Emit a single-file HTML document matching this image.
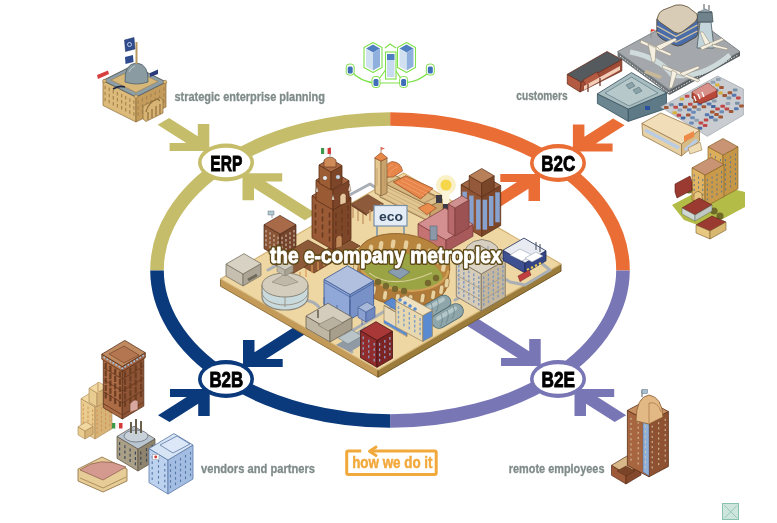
<!DOCTYPE html>
<html><head><meta charset="utf-8"><style>
html,body{margin:0;padding:0;background:#fff;width:777px;height:523px;overflow:hidden}
svg{display:block;will-change:transform;font-family:"Liberation Sans",sans-serif}
</style></head><body>
<svg width="777" height="523" viewBox="0 0 777 523">
<g fill="none" stroke="#7ee04a" stroke-width="1.2"><path d="M350 70 Q360 82 376 83 L404 83 Q420 82 431 70"/><path d="M376 83 L387 68 M404 83 L394 68 M385 48 L390 44 L396 48"/></g>
<polygon points="364.0,47.5 373.0,42.5 382.0,47.5 382.0,67.5 373.0,72.5 364.0,67.5" fill="#ffffff" stroke="#7ee04a" stroke-width="1.1" stroke-linejoin="round"/><polygon points="366.0,48.5 373.0,44.5 380.0,48.5 373.0,52.5" fill="#4f7fc0"/><polygon points="373.0,52.5 380.0,48.5 380.0,66.5 373.0,70.5" fill="#8fb0dc"/><polygon points="366.0,48.5 373.0,52.5 373.0,70.5 366.0,66.5" fill="#d0e0f0"/>
<polygon points="397.5,47.5 406.5,42.5 415.5,47.5 415.5,67.5 406.5,72.5 397.5,67.5" fill="#ffffff" stroke="#7ee04a" stroke-width="1.1" stroke-linejoin="round"/><polygon points="399.5,48.5 406.5,44.5 413.5,48.5 406.5,52.5" fill="#4f7fc0"/><polygon points="406.5,52.5 413.5,48.5 413.5,66.5 406.5,70.5" fill="#8fb0dc"/><polygon points="399.5,48.5 406.5,52.5 406.5,70.5 399.5,66.5" fill="#d0e0f0"/>
<rect x="385.5" y="52" width="10.5" height="27" fill="#ffffff" stroke="#7ee04a" stroke-width="1.1"/>
<rect x="387" y="54" width="7.5" height="6" fill="#4f7fc0"/><rect x="387" y="60" width="7.5" height="17" fill="#c8daf0"/>
<rect x="346.2" y="64.1" width="8" height="11" rx="3" fill="#fff" stroke="#7ee04a" stroke-width="1"/><rect x="347.7" y="66.6" width="5" height="7" rx="1.5" fill="#3f6fb8"/>
<rect x="426.3" y="64.1" width="8" height="11" rx="3" fill="#fff" stroke="#7ee04a" stroke-width="1"/><rect x="427.8" y="66.6" width="5" height="7" rx="1.5" fill="#3f6fb8"/>
<rect x="372.0" y="76.5" width="8" height="11" rx="3" fill="#fff" stroke="#7ee04a" stroke-width="1"/><rect x="373.5" y="79.0" width="5" height="7" rx="1.5" fill="#3f6fb8"/>
<rect x="399.6" y="76.5" width="8" height="11" rx="3" fill="#fff" stroke="#7ee04a" stroke-width="1"/><rect x="401.1" y="79.0" width="5" height="7" rx="1.5" fill="#3f6fb8"/>
<polygon points="136.0,122.0 103.0,105.5 103.0,80.5 136.0,97.0" fill="#dcbb7a" stroke="#8a6a38" stroke-width="0.7" stroke-linejoin="round"/><polygon points="136.0,122.0 166.0,107.0 166.0,82.0 136.0,97.0" fill="#c49c5c" stroke="#8a6a38" stroke-width="0.7" stroke-linejoin="round"/><polygon points="136.0,97.0 103.0,80.5 133.0,65.5 166.0,82.0" fill="#d6b474" stroke="#8a6a38" stroke-width="0.7" stroke-linejoin="round"/>
<g stroke="#a88450" stroke-width="1.2"><path d="M133.9 112.2 v3.5" /><path d="M129.8 110.2 v3.5" /><path d="M125.7 108.1 v3.5" /><path d="M121.6 106.0 v3.5" /><path d="M117.4 104.0 v3.5" /><path d="M113.3 101.9 v3.5" /><path d="M109.2 99.8 v3.5" /><path d="M105.1 97.8 v3.5" /><path d="M138.1 112.2 v3.5" /><path d="M142.4 110.0 v3.5" /><path d="M146.7 107.9 v3.5" /><path d="M151.0 105.8 v3.5" /><path d="M155.3 103.6 v3.5" /><path d="M159.6 101.5 v3.5" /><path d="M163.9 99.3 v3.5" /><path d="M133.9 106.2 v3.5" /><path d="M129.8 104.2 v3.5" /><path d="M125.7 102.1 v3.5" /><path d="M121.6 100.0 v3.5" /><path d="M117.4 98.0 v3.5" /><path d="M113.3 95.9 v3.5" /><path d="M109.2 93.8 v3.5" /><path d="M105.1 91.8 v3.5" /><path d="M138.1 106.2 v3.5" /><path d="M142.4 104.0 v3.5" /><path d="M146.7 101.9 v3.5" /><path d="M151.0 99.8 v3.5" /><path d="M155.3 97.6 v3.5" /><path d="M159.6 95.5 v3.5" /><path d="M163.9 93.3 v3.5" /><path d="M133.9 100.2 v3.5" /><path d="M129.8 98.2 v3.5" /><path d="M125.7 96.1 v3.5" /><path d="M121.6 94.0 v3.5" /><path d="M117.4 92.0 v3.5" /><path d="M113.3 89.9 v3.5" /><path d="M109.2 87.8 v3.5" /><path d="M105.1 85.8 v3.5" /><path d="M138.1 100.2 v3.5" /><path d="M142.4 98.0 v3.5" /><path d="M146.7 95.9 v3.5" /><path d="M151.0 93.8 v3.5" /><path d="M155.3 91.6 v3.5" /><path d="M159.6 89.5 v3.5" /><path d="M163.9 87.3 v3.5" /></g>
<polygon points="103.0,80.5 136.0,97.0 166.0,82.0 133.0,65.5" fill="#8d9ea6" stroke="#4e5e68" stroke-width="0.8" stroke-linejoin="round"/>
<polygon points="111.0,80.0 136.0,92.5 158.0,81.5 133.0,69.5" fill="#d8b878" stroke="#9a7a48" stroke-width="0.6" stroke-linejoin="round"/>
<polygon points="143.0,106.0 160.0,97.5 163.0,100.0 163.0,113.0 146.0,121.5 143.0,119.0" fill="#d8b474" stroke="#8a6a38" stroke-width="0.7" stroke-linejoin="round"/>
<path d="M146 112 Q148 102 158 99 L160 101" fill="none" stroke="#8a6a38" stroke-width="1.2"/>
<path d="M148 120 v-8 M152 118 v-9 M156 116 v-10 M160 114 v-10" stroke="#8a6a38" stroke-width="1.1"/>
<g fill="#d8b878" stroke="#8a6a38" stroke-width="0.5"><circle cx="104.5" cy="81" r="1.8"/><circle cx="136" cy="96.5" r="1.8"/><circle cx="165" cy="82" r="1.8"/></g>
<path d="M125 82 Q124 64 136.5 63 Q149 64 148 82 Q136.5 86 125 82 Z" fill="#8a9ca2" stroke="#4e5e68" stroke-width="0.8"/>
<path d="M129 72 Q131 67 135 66" fill="none" stroke="#b8c8cc" stroke-width="1"/>
<path d="M136.5 64 V42" stroke="#b89a60" stroke-width="2"/>
<polygon points="124.5,40.0 134.0,37.5 135.0,49.0 125.5,51.5" fill="#2f4c8e" stroke="#1c2c5a" stroke-width="0.5" stroke-linejoin="round"/>
<circle cx="129.5" cy="44.5" r="2" fill="none" stroke="#e8eef8" stroke-width="0.8"/>
<polygon points="125.0,57.0 133.0,55.0 133.5,62.0 125.5,64.0" fill="#2f4c8e"/>
<polygon points="97.0,75.0 108.0,70.5 109.0,74.0 98.0,79.0" fill="#d84040"/>
<polygon points="150.0,73.0 158.0,69.5 158.0,74.0 150.0,77.0" fill="#2a3a7a"/>
<path d="M113 89 q6 -4 12 -2" stroke="#202840" stroke-width="1.6" fill="none"/>
<polygon points="617.6,51.6 669.3,89.9 669.3,95.0 617.6,56.5" fill="#6e7478"/>
<polygon points="669.3,89.9 740.0,51.6 740.0,56.0 669.3,95.0" fill="#585e62"/>
<path d="M620 56 L669 93 L738 55" fill="none" stroke="#e8e8e8" stroke-width="1" stroke-dasharray="1.5 1.5"/>
<polygon points="617.6,51.6 688.3,13.3 740.0,51.6 669.3,89.9" fill="#a4a8ac" stroke="#70767a" stroke-width="0.8" stroke-linejoin="round"/>
<path d="M630 52 Q660 58 672 75 Q700 80 730 55" fill="none" stroke="#cfdadb" stroke-width="5"/>
<path d="M656.8 19 L656.8 31 Q657 36 662 39 L674 45 Q678 47 682 45 L696 37 Q698 35 698 31 L698 16 Z" fill="#4a6ca8" stroke="#4a3e2a" stroke-width="0.8"/>
<path d="M657 26 L676 36.5 L697.5 25 M657 32 L676 42 L697.5 31" fill="none" stroke="#d8c8a0" stroke-width="1.3"/>
<path d="M658 16 Q656 19 659 21.5 L674 32 Q678 34.5 682 32 L695 22 Q699 18 697 14 L688 7 Q682 4 676 5 L663 10 Q659 12 658 16 Z" fill="#d9ccb6" stroke="#5a4a30" stroke-width="0.8"/>
<polygon points="700.0,22.0 711.0,22.0 714.0,48.0 697.0,48.0" fill="#c4d6dc" stroke="#4a5a62" stroke-width="0.8" stroke-linejoin="round"/>
<polygon points="698.0,12.0 712.0,12.0 713.0,22.0 697.0,22.0" fill="#70828c" stroke="#3a4a52" stroke-width="0.7" stroke-linejoin="round"/>
<polygon points="699.0,12.0 705.0,9.0 712.0,12.0" fill="#9aacb4" stroke="#3a4a52" stroke-width="0.5" stroke-linejoin="round"/>
<path d="M704 9 V4 M709 10 V5" stroke="#555" stroke-width="1"/>
<g fill="#f4efe0" stroke="#8a8070" stroke-width="0.5"><path d="M641 40 L672 54 L670 56 L640 43 Z"/><path d="M648 44 L652 62 L655 62 L656 48 Z"/><path d="M656 46 L675 38 L677 40 L660 50 Z"/><path d="M700 47 L722 38 L724 40 L702 50 Z"/><path d="M705 45 L700 32 L703 32 L710 43 Z"/><path d="M712 44 L728 48 L727 50 L713 47 Z"/><path d="M663 65 L700 80 L698 82 L662 68 Z"/><path d="M672 70 L669 88 L672 88 L677 73 Z"/><path d="M680 73 L698 66 L700 68 L683 76 Z"/></g>
<polygon points="646.0,70.0 662.0,76.0 660.0,79.0 644.0,73.0" fill="#c8b898"/>
<path d="M651 38 V30" stroke="#888" stroke-width="0.8"/><polygon points="651,29 656,30 651,32" fill="#e04030"/>
<polygon points="567.3,74.3 581.0,82.0 580.0,92.0 567.3,84.0" fill="#b25a42" stroke="#6a2e20" stroke-width="0.8" stroke-linejoin="round"/>
<polygon points="581.0,82.0 621.8,59.6 621.8,71.0 580.0,92.0" fill="#a04c36" stroke="#6a2e20" stroke-width="0.8" stroke-linejoin="round"/>
<polygon points="567.3,74.3 607.0,51.5 621.8,59.6 581.0,82.0" fill="#555a5e" stroke="#6a2e20" stroke-width="0.8" stroke-linejoin="round"/>
<polygon points="583.0,80.0 597.0,72.0 600.0,78.0 586.0,86.0" fill="#b25a42" stroke="#6a2e20" stroke-width="0.6" stroke-linejoin="round"/>
<polygon points="584.0,86.0 620.0,66.0 620.0,70.0 584.0,90.0" fill="#f2cdb8"/>
<path d="M588 84 v8 M600 78 v8" stroke="#6a2e20" stroke-width="1.2"/>
<polygon points="597.4,93.8 628.3,109.0 628.3,121.4 597.4,103.5" fill="#6b8690" stroke="#36525e" stroke-width="0.8" stroke-linejoin="round"/>
<polygon points="628.3,109.0 666.5,93.0 666.5,108.4 628.3,121.4" fill="#5e7a86" stroke="#36525e" stroke-width="0.8" stroke-linejoin="round"/>
<polygon points="597.4,93.8 631.5,72.6 666.5,93.0 628.3,109.0" fill="#a9bcc0" stroke="#36525e" stroke-width="0.8" stroke-linejoin="round"/>
<polygon points="605.0,93.0 631.5,77.0 658.0,93.0 629.0,106.0" fill="#b7c8ca" stroke="#5a7a84" stroke-width="0.7" stroke-linejoin="round"/>
<path d="M626 85 l6 -3 l3 4 l-6 3 z M633 90 l6 -3 l3 4 l-6 3 z" fill="#8aa2a8" stroke="#4a6a74" stroke-width="0.5"/>
<rect x="645" y="106" width="5" height="4" fill="#2a50a0"/>
<polygon points="660.8,107.0 717.6,76.0 743.4,89.0 743.4,115.0 707.3,136.3" fill="#c9cdd1" stroke="#a4acb4" stroke-width="0.8" stroke-linejoin="round"/>
<g><rect x="664.0" y="106.0" width="4.6" height="3" rx="0.8" fill="#a05838"/><rect x="669.2" y="103.2" width="4.6" height="3" rx="0.8" fill="#7890a8"/><rect x="679.6" y="97.6" width="4.6" height="3" rx="0.8" fill="#d8b040"/><rect x="684.8" y="94.8" width="4.6" height="3" rx="0.8" fill="#c04848"/><rect x="695.2" y="89.2" width="4.6" height="3" rx="0.8" fill="#d8b040"/><rect x="700.4" y="86.4" width="4.6" height="3" rx="0.8" fill="#8a9aaa"/><rect x="705.6" y="83.6" width="4.6" height="3" rx="0.8" fill="#5878b0"/><rect x="710.8" y="80.8" width="4.6" height="3" rx="0.8" fill="#90a0b0"/><rect x="716.0" y="78.0" width="4.6" height="3" rx="0.8" fill="#90a0b0"/><rect x="673.4" y="105.8" width="4.6" height="3" rx="0.8" fill="#c04848"/><rect x="678.6" y="103.0" width="4.6" height="3" rx="0.8" fill="#4868a0"/><rect x="694.2" y="94.6" width="4.6" height="3" rx="0.8" fill="#d8b040"/><rect x="699.4" y="91.8" width="4.6" height="3" rx="0.8" fill="#c04848"/><rect x="704.6" y="89.0" width="4.6" height="3" rx="0.8" fill="#6a8ab8"/><rect x="709.8" y="86.2" width="4.6" height="3" rx="0.8" fill="#d8b040"/><rect x="715.0" y="83.4" width="4.6" height="3" rx="0.8" fill="#d8b040"/><rect x="672.4" y="111.2" width="4.6" height="3" rx="0.8" fill="#d8b040"/><rect x="677.6" y="108.4" width="4.6" height="3" rx="0.8" fill="#90a0b0"/><rect x="682.8" y="105.6" width="4.6" height="3" rx="0.8" fill="#a05838"/><rect x="688.0" y="102.8" width="4.6" height="3" rx="0.8" fill="#c04848"/><rect x="693.2" y="100.0" width="4.6" height="3" rx="0.8" fill="#a05838"/><rect x="698.4" y="97.2" width="4.6" height="3" rx="0.8" fill="#5878b0"/><rect x="703.6" y="94.4" width="4.6" height="3" rx="0.8" fill="#a05838"/><rect x="714.0" y="88.8" width="4.6" height="3" rx="0.8" fill="#6a8ab8"/><rect x="719.2" y="86.0" width="4.6" height="3" rx="0.8" fill="#a05838"/><rect x="676.6" y="113.8" width="4.6" height="3" rx="0.8" fill="#c04848"/><rect x="687.0" y="108.2" width="4.6" height="3" rx="0.8" fill="#5878b0"/><rect x="692.2" y="105.4" width="4.6" height="3" rx="0.8" fill="#a05838"/><rect x="697.4" y="102.6" width="4.6" height="3" rx="0.8" fill="#5878b0"/><rect x="702.6" y="99.8" width="4.6" height="3" rx="0.8" fill="#90a0b0"/><rect x="707.8" y="97.0" width="4.6" height="3" rx="0.8" fill="#5878b0"/><rect x="713.0" y="94.2" width="4.6" height="3" rx="0.8" fill="#c04848"/><rect x="718.2" y="91.4" width="4.6" height="3" rx="0.8" fill="#d8b040"/><rect x="680.8" y="116.4" width="4.6" height="3" rx="0.8" fill="#4868a0"/><rect x="686.0" y="113.6" width="4.6" height="3" rx="0.8" fill="#a05838"/><rect x="691.2" y="110.8" width="4.6" height="3" rx="0.8" fill="#6a8ab8"/><rect x="696.4" y="108.0" width="4.6" height="3" rx="0.8" fill="#8a9aaa"/><rect x="701.6" y="105.2" width="4.6" height="3" rx="0.8" fill="#a05838"/><rect x="706.8" y="102.4" width="4.6" height="3" rx="0.8" fill="#5878b0"/><rect x="712.0" y="99.6" width="4.6" height="3" rx="0.8" fill="#8a9aaa"/><rect x="722.4" y="94.0" width="4.6" height="3" rx="0.8" fill="#a05838"/><rect x="727.6" y="91.2" width="4.6" height="3" rx="0.8" fill="#a05838"/><rect x="732.8" y="88.4" width="4.6" height="3" rx="0.8" fill="#7890a8"/><rect x="690.2" y="116.2" width="4.6" height="3" rx="0.8" fill="#6a8ab8"/><rect x="711.0" y="105.0" width="4.6" height="3" rx="0.8" fill="#4868a0"/><rect x="726.6" y="96.6" width="4.6" height="3" rx="0.8" fill="#7890a8"/><rect x="731.8" y="93.8" width="4.6" height="3" rx="0.8" fill="#5878b0"/><rect x="689.2" y="121.6" width="4.6" height="3" rx="0.8" fill="#6a8ab8"/><rect x="694.4" y="118.8" width="4.6" height="3" rx="0.8" fill="#90a0b0"/><rect x="704.8" y="113.2" width="4.6" height="3" rx="0.8" fill="#5878b0"/><rect x="710.0" y="110.4" width="4.6" height="3" rx="0.8" fill="#a05838"/><rect x="715.2" y="107.6" width="4.6" height="3" rx="0.8" fill="#c04848"/><rect x="720.4" y="104.8" width="4.6" height="3" rx="0.8" fill="#c04848"/><rect x="725.6" y="102.0" width="4.6" height="3" rx="0.8" fill="#90a0b0"/><rect x="736.0" y="96.4" width="4.6" height="3" rx="0.8" fill="#c04848"/><rect x="698.6" y="121.4" width="4.6" height="3" rx="0.8" fill="#c04848"/><rect x="703.8" y="118.6" width="4.6" height="3" rx="0.8" fill="#c04848"/><rect x="709.0" y="115.8" width="4.6" height="3" rx="0.8" fill="#4868a0"/><rect x="714.2" y="113.0" width="4.6" height="3" rx="0.8" fill="#a05838"/><rect x="719.4" y="110.2" width="4.6" height="3" rx="0.8" fill="#6a8ab8"/><rect x="724.6" y="107.4" width="4.6" height="3" rx="0.8" fill="#c04848"/><rect x="735.0" y="101.8" width="4.6" height="3" rx="0.8" fill="#7890a8"/><rect x="697.6" y="126.8" width="4.6" height="3" rx="0.8" fill="#4868a0"/><rect x="702.8" y="124.0" width="4.6" height="3" rx="0.8" fill="#c04848"/><rect x="713.2" y="118.4" width="4.6" height="3" rx="0.8" fill="#7890a8"/><rect x="718.4" y="115.6" width="4.6" height="3" rx="0.8" fill="#a05838"/><rect x="728.8" y="110.0" width="4.6" height="3" rx="0.8" fill="#a05838"/><rect x="734.0" y="107.2" width="4.6" height="3" rx="0.8" fill="#5878b0"/><rect x="739.2" y="104.4" width="4.6" height="3" rx="0.8" fill="#a05838"/></g>
<polygon points="692.0,92.0 708.0,83.0 717.0,90.0 717.0,97.0 700.0,104.0 692.0,98.0" fill="#b8483a" stroke="#6a2a20" stroke-width="0.7" stroke-linejoin="round"/>
<polygon points="692.0,92.0 708.0,83.0 717.0,90.0 701.0,98.0" fill="#d8908a"/>
<path d="M694 96 l2 5 M698 94 l2 5 M702 92 l2 5" stroke="#fff" stroke-width="1.3"/>
<polygon points="641.9,123.4 681.5,144.0 681.5,156.0 642.7,135.4" fill="#e6d0a4" stroke="#9a7a4a" stroke-width="0.8" stroke-linejoin="round"/>
<polygon points="681.5,144.0 699.5,130.0 699.5,141.0 681.5,156.0" fill="#d8bc88" stroke="#9a7a4a" stroke-width="0.8" stroke-linejoin="round"/>
<polygon points="641.9,123.4 660.8,113.0 699.5,130.0 681.5,144.0" fill="#f1ddb8" stroke="#9a7a4a" stroke-width="0.8" stroke-linejoin="round"/>
<path d="M645 130 L679 148 M685 150 L697 140" stroke="#b9cce6" stroke-width="3.5"/>
<polygon points="684.0,136.0 694.0,131.0 694.0,137.0 684.0,142.0" fill="#ee8a48"/>
<polygon points="688.0,148.0 700.0,142.0 702.0,150.0 690.0,154.0" fill="#efdcb4" stroke="#9a7a4a" stroke-width="0.6" stroke-linejoin="round"/>
<polygon points="672.0,205.0 712.0,184.0 745.0,192.0 745.0,207.0 706.0,228.0 684.0,220.0" fill="#b3bc46"/>
<polygon points="723.0,197.0 708.0,188.8 708.0,146.8 723.0,155.0" fill="#dcae5c" stroke="#8a6428" stroke-width="0.7" stroke-linejoin="round"/><polygon points="723.0,197.0 738.0,188.8 738.0,146.8 723.0,155.0" fill="#c49646" stroke="#8a6428" stroke-width="0.7" stroke-linejoin="round"/><polygon points="723.0,155.0 708.0,146.8 723.0,138.5 738.0,146.8" fill="#c99474" stroke="#8a6428" stroke-width="0.7" stroke-linejoin="round"/>
<g stroke="#6a7a88" stroke-width="1.1"><path d="M720.5 188.1 v2.2" /><path d="M715.5 185.3 v2.2" /><path d="M710.5 182.6 v2.2" /><path d="M725.5 188.1 v2.2" /><path d="M730.5 185.3 v2.2" /><path d="M735.5 182.6 v2.2" /><path d="M720.5 183.2 v2.2" /><path d="M715.5 180.5 v2.2" /><path d="M710.5 177.7 v2.2" /><path d="M725.5 183.2 v2.2" /><path d="M730.5 180.5 v2.2" /><path d="M735.5 177.7 v2.2" /><path d="M720.5 178.4 v2.2" /><path d="M715.5 175.6 v2.2" /><path d="M710.5 172.9 v2.2" /><path d="M725.5 178.4 v2.2" /><path d="M730.5 175.6 v2.2" /><path d="M735.5 172.9 v2.2" /><path d="M720.5 173.5 v2.2" /><path d="M715.5 170.8 v2.2" /><path d="M710.5 168.0 v2.2" /><path d="M725.5 173.5 v2.2" /><path d="M730.5 170.8 v2.2" /><path d="M735.5 168.0 v2.2" /><path d="M720.5 168.7 v2.2" /><path d="M715.5 165.9 v2.2" /><path d="M710.5 163.2 v2.2" /><path d="M725.5 168.7 v2.2" /><path d="M730.5 165.9 v2.2" /><path d="M735.5 163.2 v2.2" /><path d="M720.5 163.8 v2.2" /><path d="M715.5 161.1 v2.2" /><path d="M710.5 158.3 v2.2" /><path d="M725.5 163.8 v2.2" /><path d="M730.5 161.1 v2.2" /><path d="M735.5 158.3 v2.2" /><path d="M720.5 159.0 v2.2" /><path d="M715.5 156.2 v2.2" /><path d="M710.5 153.5 v2.2" /><path d="M725.5 159.0 v2.2" /><path d="M730.5 156.2 v2.2" /><path d="M735.5 153.5 v2.2" /></g>
<polygon points="705.0,207.0 692.0,199.8 692.0,167.8 705.0,175.0" fill="#e0b462" stroke="#8a6428" stroke-width="0.7" stroke-linejoin="round"/><polygon points="705.0,207.0 724.0,196.6 724.0,164.6 705.0,175.0" fill="#c89a4a" stroke="#8a6428" stroke-width="0.7" stroke-linejoin="round"/><polygon points="705.0,175.0 692.0,167.8 711.0,157.4 724.0,164.6" fill="#c99474" stroke="#8a6428" stroke-width="0.7" stroke-linejoin="round"/>
<g stroke="#6a7a88" stroke-width="1.1"><path d="M702.8 198.3 v2.2" /><path d="M698.5 195.9 v2.2" /><path d="M694.2 193.5 v2.2" /><path d="M707.4 198.2 v2.2" /><path d="M712.1 195.6 v2.2" /><path d="M716.9 193.0 v2.2" /><path d="M721.6 190.4 v2.2" /><path d="M702.8 193.5 v2.2" /><path d="M698.5 191.1 v2.2" /><path d="M694.2 188.7 v2.2" /><path d="M707.4 193.4 v2.2" /><path d="M712.1 190.8 v2.2" /><path d="M716.9 188.2 v2.2" /><path d="M721.6 185.6 v2.2" /><path d="M702.8 188.7 v2.2" /><path d="M698.5 186.3 v2.2" /><path d="M694.2 183.9 v2.2" /><path d="M707.4 188.6 v2.2" /><path d="M712.1 186.0 v2.2" /><path d="M716.9 183.4 v2.2" /><path d="M721.6 180.8 v2.2" /><path d="M702.8 183.9 v2.2" /><path d="M698.5 181.5 v2.2" /><path d="M694.2 179.1 v2.2" /><path d="M707.4 183.8 v2.2" /><path d="M712.1 181.2 v2.2" /><path d="M716.9 178.6 v2.2" /><path d="M721.6 176.0 v2.2" /><path d="M702.8 179.1 v2.2" /><path d="M698.5 176.7 v2.2" /><path d="M694.2 174.3 v2.2" /><path d="M707.4 179.0 v2.2" /><path d="M712.1 176.4 v2.2" /><path d="M716.9 173.8 v2.2" /><path d="M721.6 171.2 v2.2" /></g>
<path d="M694 206 v-12 q4 -5 8 0 v14" fill="#e8c880" stroke="#8a6428" stroke-width="0.6"/>
<g fill="#6f6a28"><circle cx="689" cy="190" r="3.6"/><circle cx="714" cy="211" r="3.6"/><circle cx="720" cy="216" r="3.6"/></g>
<polygon points="675.0,184.0 690.0,176.0 692.0,182.0 692.0,190.0 677.0,198.0 675.0,192.0" fill="#9a3a30" stroke="#5a2018" stroke-width="0.6" stroke-linejoin="round"/>
<polygon points="682.0,208.0 699.0,198.0 712.0,205.0 695.0,215.0" fill="#9a3a30" stroke="#5a2018" stroke-width="0.6" stroke-linejoin="round"/>
<polygon points="682.0,208.0 695.0,215.0 695.0,221.0 682.0,214.0" fill="#cfd8d2" stroke="#5a6a62" stroke-width="0.5" stroke-linejoin="round"/>
<polygon points="695.0,215.0 712.0,205.0 712.0,211.0 695.0,221.0" fill="#bfc8c2" stroke="#5a6a62" stroke-width="0.5" stroke-linejoin="round"/>
<polygon points="696.0,225.0 712.0,216.0 726.0,222.0 710.0,231.0" fill="#9a3a30" stroke="#5a2018" stroke-width="0.6" stroke-linejoin="round"/>
<polygon points="696.0,225.0 710.0,231.0 710.0,239.0 696.0,233.0" fill="#e6c880" stroke="#7a5a28" stroke-width="0.6" stroke-linejoin="round"/>
<polygon points="710.0,231.0 726.0,222.0 726.0,230.0 710.0,239.0" fill="#d8b870" stroke="#7a5a28" stroke-width="0.6" stroke-linejoin="round"/>
<polygon points="95.0,439.0 81.0,430.6 81.0,398.6 95.0,407.0" fill="#e8cc90" stroke="#a88450" stroke-width="0.6" stroke-linejoin="round"/><polygon points="95.0,439.0 112.0,428.8 112.0,396.8 95.0,407.0" fill="#d6b478" stroke="#a88450" stroke-width="0.6" stroke-linejoin="round"/><polygon points="95.0,407.0 81.0,398.6 98.0,388.4 112.0,396.8" fill="#f0d8a0" stroke="#a88450" stroke-width="0.6" stroke-linejoin="round"/>
<polygon points="97.0,407.0 89.0,402.2 89.0,388.2 97.0,393.0" fill="#e8cc90" stroke="#a88450" stroke-width="0.6" stroke-linejoin="round"/><polygon points="97.0,407.0 107.0,401.0 107.0,387.0 97.0,393.0" fill="#d6b478" stroke="#a88450" stroke-width="0.6" stroke-linejoin="round"/><polygon points="97.0,393.0 89.0,388.2 99.0,382.2 107.0,387.0" fill="#f0d8a0" stroke="#a88450" stroke-width="0.6" stroke-linejoin="round"/>
<path d="M98 393 V382" stroke="#d8b880" stroke-width="2"/>
<g stroke="#d89050" stroke-width="1"><path d="M92.7 431.2 v2.5" /><path d="M88.0 428.4 v2.5" /><path d="M83.3 425.6 v2.5" /><path d="M97.1 431.3 v2.5" /><path d="M101.4 428.8 v2.5" /><path d="M105.6 426.2 v2.5" /><path d="M109.9 423.7 v2.5" /><path d="M92.7 426.9 v2.5" /><path d="M88.0 424.1 v2.5" /><path d="M83.3 421.2 v2.5" /><path d="M97.1 427.0 v2.5" /><path d="M101.4 424.4 v2.5" /><path d="M105.6 421.9 v2.5" /><path d="M109.9 419.3 v2.5" /><path d="M92.7 422.5 v2.5" /><path d="M88.0 419.7 v2.5" /><path d="M83.3 416.9 v2.5" /><path d="M97.1 422.6 v2.5" /><path d="M101.4 420.1 v2.5" /><path d="M105.6 417.5 v2.5" /><path d="M109.9 415.0 v2.5" /><path d="M92.7 418.2 v2.5" /><path d="M88.0 415.4 v2.5" /><path d="M83.3 412.6 v2.5" /><path d="M97.1 418.3 v2.5" /><path d="M101.4 415.8 v2.5" /><path d="M105.6 413.2 v2.5" /><path d="M109.9 410.7 v2.5" /><path d="M92.7 413.9 v2.5" /><path d="M88.0 411.1 v2.5" /><path d="M83.3 408.2 v2.5" /><path d="M97.1 414.0 v2.5" /><path d="M101.4 411.4 v2.5" /><path d="M105.6 408.9 v2.5" /><path d="M109.9 406.3 v2.5" /><path d="M92.7 409.5 v2.5" /><path d="M88.0 406.7 v2.5" /><path d="M83.3 403.9 v2.5" /><path d="M97.1 409.6 v2.5" /><path d="M101.4 407.1 v2.5" /><path d="M105.6 404.5 v2.5" /><path d="M109.9 402.0 v2.5" /></g>
<polygon points="85.0,439.0 78.0,434.8 78.0,426.8 85.0,431.0" fill="#e8cc90" stroke="#a88450" stroke-width="0.6" stroke-linejoin="round"/><polygon points="85.0,439.0 93.0,434.2 93.0,426.2 85.0,431.0" fill="#d6b478" stroke="#a88450" stroke-width="0.6" stroke-linejoin="round"/><polygon points="85.0,431.0 78.0,426.8 86.0,422.0 93.0,426.2" fill="#f0d8a0" stroke="#a88450" stroke-width="0.6" stroke-linejoin="round"/>
<polygon points="122.3,419.0 103.3,407.6 103.3,355.9 122.3,367.3" fill="#ac6c46" stroke="#5a3018" stroke-width="0.8" stroke-linejoin="round"/><polygon points="122.3,419.0 143.8,406.1 143.8,354.4 122.3,367.3" fill="#8e5436" stroke="#5a3018" stroke-width="0.8" stroke-linejoin="round"/><polygon points="122.3,367.3 103.3,355.9 124.8,343.0 143.8,354.4" fill="#b88058" stroke="#5a3018" stroke-width="0.8" stroke-linejoin="round"/>
<g stroke="#6e3e22" stroke-width="2.2"><path d="M119.9 400.9 v6.0" /><path d="M115.2 398.1 v6.0" /><path d="M110.4 395.2 v6.0" /><path d="M105.7 392.4 v6.0" /><path d="M125.0 400.7 v6.0" /><path d="M130.4 397.5 v6.0" /><path d="M135.7 394.3 v6.0" /><path d="M141.1 391.0 v6.0" /><path d="M119.9 393.6 v6.0" /><path d="M115.2 390.7 v6.0" /><path d="M110.4 387.9 v6.0" /><path d="M105.7 385.0 v6.0" /><path d="M125.0 393.4 v6.0" /><path d="M130.4 390.2 v6.0" /><path d="M135.7 386.9 v6.0" /><path d="M141.1 383.7 v6.0" /><path d="M119.9 386.2 v6.0" /><path d="M115.2 383.4 v6.0" /><path d="M110.4 380.5 v6.0" /><path d="M105.7 377.7 v6.0" /><path d="M125.0 386.0 v6.0" /><path d="M130.4 382.8 v6.0" /><path d="M135.7 379.6 v6.0" /><path d="M141.1 376.4 v6.0" /><path d="M119.9 378.9 v6.0" /><path d="M115.2 376.0 v6.0" /><path d="M110.4 373.2 v6.0" /><path d="M105.7 370.3 v6.0" /><path d="M125.0 378.7 v6.0" /><path d="M130.4 375.5 v6.0" /><path d="M135.7 372.2 v6.0" /><path d="M141.1 369.0 v6.0" /><path d="M119.9 371.5 v6.0" /><path d="M115.2 368.7 v6.0" /><path d="M110.4 365.8 v6.0" /><path d="M105.7 363.0 v6.0" /><path d="M125.0 371.4 v6.0" /><path d="M130.4 368.1 v6.0" /><path d="M135.7 364.9 v6.0" /><path d="M141.1 361.7 v6.0" /></g>
<path d="M104 392 L122.3 403 L143.8 390 M104 380 L122.3 391 L143.8 378 M104 368 L122.3 379 L143.8 366 M104 404 L122.3 415 L143.8 402" stroke="#6a3a20" stroke-width="0.9" fill="none"/>
<polygon points="122.3,371.5 101.8,359.2 101.8,354.2 122.3,366.5" fill="#b8784e" stroke="#5a3018" stroke-width="0.8" stroke-linejoin="round"/><polygon points="122.3,371.5 145.3,357.7 145.3,352.7 122.3,366.5" fill="#9c5e3c" stroke="#5a3018" stroke-width="0.8" stroke-linejoin="round"/><polygon points="122.3,366.5 101.8,354.2 124.8,340.4 145.3,352.7" fill="#c08a60" stroke="#5a3018" stroke-width="0.8" stroke-linejoin="round"/>
<polygon points="109.0,354.0 124.0,346.0 139.0,355.0 124.0,363.0" fill="#b47650" stroke="#6a3a20" stroke-width="0.6" stroke-linejoin="round"/>
<path d="M103.5 357 L122.3 368.5 L144.5 355" stroke="#9fc0dc" stroke-width="1.6" fill="none" stroke-dasharray="2 1.5"/>
<path d="M130 412 v-8 q4 -6 8 -3 v8" fill="#d8a8a0" stroke="#6a3a20" stroke-width="0.6"/>
<rect x="112" y="423" width="3.5" height="5.5" fill="#3a9a48"/><rect x="115.5" y="423" width="3.5" height="5.5" fill="#f4f4f0"/><rect x="119" y="423" width="3.5" height="5.5" fill="#d43838"/>
<polygon points="138.0,471.0 117.0,458.4 117.0,436.4 138.0,449.0" fill="#aaa088" stroke="#5a5040" stroke-width="0.7" stroke-linejoin="round"/><polygon points="138.0,471.0 155.0,460.8 155.0,438.8 138.0,449.0" fill="#8f846e" stroke="#5a5040" stroke-width="0.7" stroke-linejoin="round"/><polygon points="138.0,449.0 117.0,436.4 134.0,426.2 155.0,438.8" fill="#b8c4d0" stroke="#5a5040" stroke-width="0.7" stroke-linejoin="round"/>
<g stroke="#404a58" stroke-width="1.2"><path d="M135.4 462.3 v3.0" /><path d="M130.1 459.1 v3.0" /><path d="M124.9 456.0 v3.0" /><path d="M119.6 452.8 v3.0" /><path d="M140.8 462.1 v3.0" /><path d="M146.5 458.7 v3.0" /><path d="M152.2 455.3 v3.0" /><path d="M135.4 456.9 v3.0" /><path d="M130.1 453.8 v3.0" /><path d="M124.9 450.6 v3.0" /><path d="M119.6 447.5 v3.0" /><path d="M140.8 456.8 v3.0" /><path d="M146.5 453.4 v3.0" /><path d="M152.2 450.0 v3.0" /><path d="M135.4 451.6 v3.0" /><path d="M130.1 448.4 v3.0" /><path d="M124.9 445.3 v3.0" /><path d="M119.6 442.1 v3.0" /><path d="M140.8 451.5 v3.0" /><path d="M146.5 448.1 v3.0" /><path d="M152.2 444.7 v3.0" /></g>
<ellipse cx="136" cy="436" rx="12" ry="6" fill="#c8d0d8" stroke="#6a7080" stroke-width="0.8"/>
<path d="M131 433 V422 M136 434 V419 M141 433 V421" stroke="#6a6050" stroke-width="2"/>
<polygon points="78.0,469.0 102.0,457.0 127.0,469.0 127.0,481.0 103.0,492.0 78.0,481.0" fill="#e6cd98" stroke="#8a6a38" stroke-width="0.8" stroke-linejoin="round"/>
<path d="M80 470 Q100 455 126 467 L103 480 Z" fill="#d49a90" stroke="#8a5a48" stroke-width="0.7"/>
<path d="M80 478 L103 488 L126 477" stroke="#b0905a" stroke-width="1" fill="none"/>
<polygon points="168.0,494.0 149.0,482.6 149.0,448.6 168.0,460.0" fill="#bcd2ee" stroke="#5a7aaa" stroke-width="0.8" stroke-linejoin="round"/><polygon points="168.0,494.0 193.0,479.0 193.0,445.0 168.0,460.0" fill="#a2bce2" stroke="#5a7aaa" stroke-width="0.8" stroke-linejoin="round"/><polygon points="168.0,460.0 149.0,448.6 174.0,433.6 193.0,445.0" fill="#d6e4f4" stroke="#5a7aaa" stroke-width="0.8" stroke-linejoin="round"/>
<g stroke="#5678a8" stroke-width="1.1"><path d="M164.8 485.1 v2.6" /><path d="M158.5 481.3 v2.6" /><path d="M152.2 477.5 v2.6" /><path d="M170.5 485.5 v2.6" /><path d="M175.5 482.5 v2.6" /><path d="M180.5 479.5 v2.6" /><path d="M185.5 476.5 v2.6" /><path d="M190.5 473.5 v2.6" /><path d="M164.8 479.7 v2.6" /><path d="M158.5 475.9 v2.6" /><path d="M152.2 472.1 v2.6" /><path d="M170.5 480.1 v2.6" /><path d="M175.5 477.1 v2.6" /><path d="M180.5 474.1 v2.6" /><path d="M185.5 471.1 v2.6" /><path d="M190.5 468.1 v2.6" /><path d="M164.8 474.3 v2.6" /><path d="M158.5 470.5 v2.6" /><path d="M152.2 466.7 v2.6" /><path d="M170.5 474.7 v2.6" /><path d="M175.5 471.7 v2.6" /><path d="M180.5 468.7 v2.6" /><path d="M185.5 465.7 v2.6" /><path d="M190.5 462.7 v2.6" /><path d="M164.8 468.9 v2.6" /><path d="M158.5 465.1 v2.6" /><path d="M152.2 461.3 v2.6" /><path d="M170.5 469.3 v2.6" /><path d="M175.5 466.3 v2.6" /><path d="M180.5 463.3 v2.6" /><path d="M185.5 460.3 v2.6" /><path d="M190.5 457.3 v2.6" /><path d="M164.8 463.5 v2.6" /><path d="M158.5 459.7 v2.6" /><path d="M152.2 455.9 v2.6" /><path d="M170.5 463.9 v2.6" /><path d="M175.5 460.9 v2.6" /><path d="M180.5 457.9 v2.6" /><path d="M185.5 454.9 v2.6" /><path d="M190.5 451.9 v2.6" /></g>
<polygon points="160.0,445.0 177.0,436.0 190.0,444.0 173.0,453.0" fill="#dce8f8" stroke="#4a6a9c" stroke-width="0.7" stroke-linejoin="round"/>
<rect x="152.5" y="454.5" width="6.5" height="5" fill="#fff" stroke="#888" stroke-width="0.4"/><circle cx="155.7" cy="457" r="1.4" fill="#d43838"/>
<polygon points="626.0,484.0 611.5,475.3 611.5,465.3 626.0,474.0" fill="#9c5a38" stroke="#5a2e18" stroke-width="0.7" stroke-linejoin="round"/><polygon points="626.0,484.0 641.0,475.0 641.0,465.0 626.0,474.0" fill="#84482c" stroke="#5a2e18" stroke-width="0.7" stroke-linejoin="round"/><polygon points="626.0,474.0 611.5,465.3 626.5,456.3 641.0,465.0" fill="#d8b888" stroke="#5a2e18" stroke-width="0.7" stroke-linejoin="round"/>
<polygon points="617.0,471.0 626.0,466.0 635.0,471.0 626.0,476.0" fill="#7a4428" stroke="#5a2e18" stroke-width="0.5" stroke-linejoin="round"/>
<polygon points="649.0,476.8 627.4,465.4 627.4,410.4 649.0,421.8" fill="#a86640" stroke="#5a2e18" stroke-width="0.8" stroke-linejoin="round"/><polygon points="649.0,476.8 668.4,466.5 668.4,411.5 649.0,421.8" fill="#8e5232" stroke="#5a2e18" stroke-width="0.8" stroke-linejoin="round"/><polygon points="649.0,421.8 627.4,410.4 646.8,400.1 668.4,411.5" fill="#c89060" stroke="#5a2e18" stroke-width="0.8" stroke-linejoin="round"/>
<polygon points="643.0,418.0 643.0,472.0 649.0,475.8 649.0,421.8" fill="#8fb0d8" stroke="#5a6a90" stroke-width="0.5" stroke-linejoin="round"/>
<g stroke="#d8c8a8" stroke-width="1"><path d="M645.4 466.3 v2.0" /><path d="M638.2 462.5 v2.0" /><path d="M631.0 458.7 v2.0" /><path d="M652.2 466.5 v2.0" /><path d="M658.7 463.1 v2.0" /><path d="M665.2 459.7 v2.0" /><path d="M645.4 461.2 v2.0" /><path d="M638.2 457.4 v2.0" /><path d="M631.0 453.6 v2.0" /><path d="M652.2 461.4 v2.0" /><path d="M658.7 458.0 v2.0" /><path d="M665.2 454.6 v2.0" /><path d="M645.4 456.1 v2.0" /><path d="M638.2 452.3 v2.0" /><path d="M631.0 448.5 v2.0" /><path d="M652.2 456.3 v2.0" /><path d="M658.7 452.9 v2.0" /><path d="M665.2 449.5 v2.0" /><path d="M645.4 451.0 v2.0" /><path d="M638.2 447.2 v2.0" /><path d="M631.0 443.4 v2.0" /><path d="M652.2 451.2 v2.0" /><path d="M658.7 447.8 v2.0" /><path d="M665.2 444.3 v2.0" /><path d="M645.4 445.9 v2.0" /><path d="M638.2 442.1 v2.0" /><path d="M631.0 438.3 v2.0" /><path d="M652.2 446.1 v2.0" /><path d="M658.7 442.7 v2.0" /><path d="M665.2 439.2 v2.0" /><path d="M645.4 440.8 v2.0" /><path d="M638.2 437.0 v2.0" /><path d="M631.0 433.1 v2.0" /><path d="M652.2 441.0 v2.0" /><path d="M658.7 437.5 v2.0" /><path d="M665.2 434.1 v2.0" /><path d="M645.4 435.7 v2.0" /><path d="M638.2 431.9 v2.0" /><path d="M631.0 428.0 v2.0" /><path d="M652.2 435.9 v2.0" /><path d="M658.7 432.4 v2.0" /><path d="M665.2 429.0 v2.0" /><path d="M645.4 430.6 v2.0" /><path d="M638.2 426.7 v2.0" /><path d="M631.0 422.9 v2.0" /><path d="M652.2 430.8 v2.0" /><path d="M658.7 427.3 v2.0" /><path d="M665.2 423.9 v2.0" /><path d="M645.4 425.4 v2.0" /><path d="M638.2 421.6 v2.0" /><path d="M631.0 417.8 v2.0" /><path d="M652.2 425.6 v2.0" /><path d="M658.7 422.2 v2.0" /><path d="M665.2 418.8 v2.0" /></g>
<path d="M636 421 Q636 397 649 395 Q662 397 663 417 L649 424 Z" fill="#e2b884" stroke="#8a5a30" stroke-width="0.8"/>
<path d="M649 424 L649 403 Q658 401 661 412" fill="none" stroke="#b88858" stroke-width="1"/>
<path d="M642 397 V390" stroke="#333" stroke-width="0.8"/><rect x="642" y="389.5" width="5.5" height="4" fill="#a8c0d0" stroke="#456" stroke-width="0.4"/><defs><clipPath id="q1"><rect x="0" y="0" width="390.2" height="270.5"/></clipPath><clipPath id="q2"><rect x="390.2" y="0" width="400" height="270.5"/></clipPath><clipPath id="q3"><rect x="390.2" y="270.5" width="400" height="300"/></clipPath><clipPath id="q4"><rect x="0" y="270.5" width="390.2" height="300"/></clipPath></defs><g fill="none" stroke-width="13.6"><ellipse cx="390" cy="270" rx="233" ry="151" stroke="#c6bd6b" clip-path="url(#q1)"/><ellipse cx="390" cy="270" rx="233" ry="151" stroke="#e96d34" clip-path="url(#q2)"/><ellipse cx="390" cy="270" rx="233" ry="151" stroke="#7976b6" clip-path="url(#q3)"/><ellipse cx="390" cy="270" rx="233" ry="151" stroke="#0b3a7c" clip-path="url(#q4)"/></g>
<polygon points="169.1,118.1 197.8,136.3 197.8,124.1 209.3,124.1 209.3,151.1 169.6,151.1 169.6,143.0 186.3,143.0 157.6,124.8" fill="#c6bd6b"/>
<polygon points="304.7,220.2 254.0,188.1 254.0,200.3 242.5,200.3 242.5,173.3 282.2,173.3 282.2,181.4 265.5,181.4 316.2,213.5" fill="#c6bd6b"/>
<polygon points="613.1,118.5 584.4,136.7 584.4,124.5 572.9,124.5 572.9,151.5 612.6,151.5 612.6,143.4 595.9,143.4 624.6,125.2" fill="#e96d34"/>
<polygon points="490.5,212.9 528.5,188.8 528.5,201.0 540.0,201.0 540.0,174.0 500.3,174.0 500.3,182.1 517.0,182.1 479.0,206.2" fill="#e96d34"/>
<polygon points="305.2,320.1 254.5,352.2 254.5,340.0 243.0,340.0 243.0,367.0 282.7,367.0 282.7,358.9 266.0,358.9 316.7,326.8" fill="#0b3a7c"/>
<polygon points="169.5,422.0 198.2,403.8 198.2,416.0 209.7,416.0 209.7,389.0 170.0,389.0 170.0,397.1 186.7,397.1 158.0,415.3" fill="#0b3a7c"/>
<polygon points="478.5,319.1 529.2,351.2 529.2,339.0 540.7,339.0 540.7,366.0 501.0,366.0 501.0,357.9 517.7,357.9 467.0,325.8" fill="#7976b6"/>
<polygon points="614.7,422.0 586.0,403.8 586.0,416.0 574.5,416.0 574.5,389.0 614.2,389.0 614.2,397.1 597.5,397.1 626.2,415.3" fill="#7976b6"/>
<polygon points="220.5,279.0 378.0,370.0 378.0,377.2 220.5,286.2" fill="#c49a58" stroke="#8a6a30" stroke-width="0.9" stroke-linejoin="round"/>
<polygon points="378.0,370.0 561.0,264.0 561.0,271.2 378.0,377.2" fill="#9c7c3a" stroke="#6a5020" stroke-width="0.9" stroke-linejoin="round"/>
<polygon points="220.5,279.0 403.5,173.0 561.0,264.0 378.0,370.0" fill="#eed7a2" stroke="#d4b476" stroke-width="1.2" stroke-linejoin="round"/>
<g fill="none" stroke="#a9afb5" stroke-width="3" stroke-linecap="round" stroke-linejoin="round"><path d="M300 300 Q322 300 322 318 L 338 328"/><path d="M345 335 L 395 305"/><path d="M455 300 L 500 276 L 510 282 L 525 285 L 550 270 L 535 258 L 515 248 L 495 255"/><path d="M344 198 L 370 184 L 392 198"/><path d="M365 328 L 342 345 L 352 352"/><path d="M268 270 L 300 252"/></g>
<polygon points="336.0,345.0 355.0,334.0 368.0,341.0 350.0,352.0" fill="#8f9aa5"/>
<polygon points="351.4,204.0 368.0,194.7 383.5,204.0 366.8,214.0" fill="#8e5a3c" stroke="#5e3a22" stroke-width="0.7" stroke-linejoin="round"/>
<path d="M353 206 v12 M358 209 v12 M363 212 v12 M370 210 v11 M376 206 v11 M381 204 v10" stroke="#c89a68" stroke-width="1.4"/>
<polygon points="351.4,204.0 366.8,214.0 366.8,216.0 351.4,206.0" fill="#6e4028"/>
<polygon points="430.0,222.0 380.0,197.0 380.0,181.0 430.0,206.0" fill="#e2c792" stroke="#8a6a40" stroke-width="0.9" stroke-linejoin="round"/><polygon points="430.0,222.0 443.0,215.5 443.0,199.5 430.0,206.0" fill="#c8a46c" stroke="#8a6a40" stroke-width="0.9" stroke-linejoin="round"/><polygon points="430.0,206.0 380.0,181.0 393.0,174.5 443.0,199.5" fill="#dcc28e" stroke="#8a6a40" stroke-width="0.9" stroke-linejoin="round"/>
<path d="M382 185 L429 208.5 M382 189 L429 212.5 M382 193 L429 216.5 M382 197 L429 220.5" stroke="#c0a070" stroke-width="0.7"/>
<polygon points="386.0,184.0 398.0,178.0 436.0,197.0 424.0,203.0" fill="#d8b880" stroke="#8a6a40" stroke-width="0.6" stroke-linejoin="round"/>
<polygon points="393.2,182.0 405.8,175.8 433.0,188.4 420.5,199.0" fill="#e8864a" stroke="#9a5028" stroke-width="0.8" stroke-linejoin="round"/>
<path d="M397 182.5 L424 196 M401 180.5 L428 194 M405 178.5 L431 191" stroke="#f2a070" stroke-width="0.8"/>
<polygon points="418.4,208.0 428.0,203.0 436.3,208.0 427.0,214.7" fill="#ea8c4c" stroke="#9a5028" stroke-width="0.7" stroke-linejoin="round"/>
<path d="M381.6 177 Q383 164 392 161.5 Q401 162 402.6 171 L393 177 Z" fill="#e8864a" stroke="#9a5028" stroke-width="0.7"/>
<path d="M385 174 Q387 166 393 165 M389 176 Q391 168 398 167" fill="none" stroke="#f2a070" stroke-width="0.7"/>
<polygon points="381.0,196.0 375.0,193.0 375.0,158.0 381.0,161.0" fill="#e4c890" stroke="#8a6a40" stroke-width="0.8" stroke-linejoin="round"/><polygon points="381.0,196.0 387.0,193.0 387.0,158.0 381.0,161.0" fill="#c8a46c" stroke="#8a6a40" stroke-width="0.8" stroke-linejoin="round"/><polygon points="381.0,161.0 375.0,158.0 381.0,155.0 387.0,158.0" fill="#e3c48e" stroke="#8a6a40" stroke-width="0.8" stroke-linejoin="round"/>
<path d="M377 168 v18 M384.5 168 v18" stroke="#b8946a" stroke-width="0.6"/>
<polygon points="374.5,158.0 381.0,152.5 387.5,158.0 381.0,161.0" fill="#e58848" stroke="#9a5028" stroke-width="0.7" stroke-linejoin="round"/>
<path d="M381 152 v-5" stroke="#a07050" stroke-width="0.8"/><polygon points="381,147 385,148.5 381,150" fill="#e06a50"/>
<path d="M377 226 V248 M404 226 V248" stroke="#7a98b0" stroke-width="1.6"/>
<rect x="374" y="205.5" width="33" height="20.5" fill="#e4ecf6" stroke="#7890a8" stroke-width="1.2"/>
<text x="391" y="220.5" text-anchor="middle" font-size="12" font-weight="bold" fill="#2c4058" textLength="24" lengthAdjust="spacingAndGlyphs">eco</text>
<circle cx="446" cy="185" r="10" fill="#faf0c8"/><circle cx="446" cy="185" r="5.5" fill="#f6d64a"/>
<polygon points="442.0,191.0 450.0,191.0 449.0,206.0 443.0,206.0" fill="#fbf4d8"/>
<rect x="436" y="195" width="6" height="8" fill="#3a3a44"/><rect x="443" y="204" width="7" height="7" fill="#3a3a44"/>
<polygon points="481.7,236.5 461.2,224.6 461.2,184.6 481.7,196.5" fill="#8e5434" stroke="#5a3018" stroke-width="0.8" stroke-linejoin="round"/><polygon points="481.7,236.5 500.7,225.5 500.7,185.5 481.7,196.5" fill="#7a4528" stroke="#5a3018" stroke-width="0.8" stroke-linejoin="round"/><polygon points="481.7,196.5 461.2,184.6 480.2,173.6 500.7,185.5" fill="#a06844" stroke="#5a3018" stroke-width="0.8" stroke-linejoin="round"/>
<g stroke="#87a2cf" stroke-width="4.5"><path d="M478.3 199.5 v30.0" /><path d="M471.4 195.6 v30.0" /><path d="M464.6 191.6 v30.0" /><path d="M484.9 199.7 v30.0" /><path d="M491.2 196.0 v30.0" /><path d="M497.5 192.3 v30.0" /></g>
<polygon points="481.7,197.0 469.2,189.8 469.2,175.8 481.7,183.0" fill="#94583a" stroke="#5a3018" stroke-width="0.7" stroke-linejoin="round"/><polygon points="481.7,197.0 494.2,189.8 494.2,175.8 481.7,183.0" fill="#7a4629" stroke="#5a3018" stroke-width="0.7" stroke-linejoin="round"/><polygon points="481.7,183.0 469.2,175.8 481.7,168.5 494.2,175.8" fill="#b88058" stroke="#5a3018" stroke-width="0.7" stroke-linejoin="round"/>
<polygon points="446.0,252.0 418.0,235.8 418.0,223.8 446.0,240.0" fill="#c47272" stroke="#7a3a3a" stroke-width="0.7" stroke-linejoin="round"/><polygon points="446.0,252.0 473.0,236.3 473.0,224.3 446.0,240.0" fill="#a85a5a" stroke="#7a3a3a" stroke-width="0.7" stroke-linejoin="round"/><polygon points="446.0,240.0 418.0,223.8 445.0,208.1 473.0,224.3" fill="#d49090" stroke="#7a3a3a" stroke-width="0.7" stroke-linejoin="round"/>
<polygon points="455.0,236.0 448.0,231.9 448.0,203.9 455.0,208.0" fill="#b86a6a" stroke="#7a3a3a" stroke-width="0.7" stroke-linejoin="round"/><polygon points="455.0,236.0 469.0,227.9 469.0,199.9 455.0,208.0" fill="#9c5252" stroke="#7a3a3a" stroke-width="0.7" stroke-linejoin="round"/><polygon points="455.0,208.0 448.0,203.9 462.0,195.8 469.0,199.9" fill="#d09090" stroke="#7a3a3a" stroke-width="0.7" stroke-linejoin="round"/>
<rect x="430" y="226" width="7" height="14" fill="#8a98a8" stroke="#4a5868" stroke-width="0.5"/>
<polygon points="280.0,258.0 264.0,248.7 264.0,224.7 280.0,234.0" fill="#8a5434" stroke="#4a2a18" stroke-width="0.7" stroke-linejoin="round"/><polygon points="280.0,258.0 296.0,248.7 296.0,224.7 280.0,234.0" fill="#74432a" stroke="#4a2a18" stroke-width="0.7" stroke-linejoin="round"/><polygon points="280.0,234.0 264.0,224.7 280.0,215.4 296.0,224.7" fill="#a86a48" stroke="#4a2a18" stroke-width="0.7" stroke-linejoin="round"/>
<g stroke="#c8b8a8" stroke-width="1.2"><path d="M278.0 250.3 v2.5" /><path d="M274.0 248.0 v2.5" /><path d="M270.0 245.7 v2.5" /><path d="M266.0 243.4 v2.5" /><path d="M282.0 250.3 v2.5" /><path d="M286.0 248.0 v2.5" /><path d="M290.0 245.7 v2.5" /><path d="M294.0 243.4 v2.5" /><path d="M278.0 245.8 v2.5" /><path d="M274.0 243.5 v2.5" /><path d="M270.0 241.2 v2.5" /><path d="M266.0 238.9 v2.5" /><path d="M282.0 245.8 v2.5" /><path d="M286.0 243.5 v2.5" /><path d="M290.0 241.2 v2.5" /><path d="M294.0 238.9 v2.5" /><path d="M278.0 241.3 v2.5" /><path d="M274.0 239.0 v2.5" /><path d="M270.0 236.7 v2.5" /><path d="M266.0 234.4 v2.5" /><path d="M282.0 241.3 v2.5" /><path d="M286.0 239.0 v2.5" /><path d="M290.0 236.7 v2.5" /><path d="M294.0 234.4 v2.5" /><path d="M278.0 236.8 v2.5" /><path d="M274.0 234.5 v2.5" /><path d="M270.0 232.2 v2.5" /><path d="M266.0 229.9 v2.5" /><path d="M282.0 236.8 v2.5" /><path d="M286.0 234.5 v2.5" /><path d="M290.0 232.2 v2.5" /><path d="M294.0 229.9 v2.5" /></g>
<path d="M272 218 V212" stroke="#777" stroke-width="0.7"/><rect x="268" y="211" width="6" height="4" fill="#b0c8d0" stroke="#567" stroke-width="0.4"/>
<polygon points="300,265 346,238 360,246 314,273" fill="#8a5634" stroke="#5a3018" stroke-width="0.7"/>
<polygon points="333.0,250.0 312.0,237.8 312.0,195.8 333.0,208.0" fill="#9a5a36" stroke="#5a3018" stroke-width="0.8" stroke-linejoin="round"/><polygon points="333.0,250.0 351.0,239.6 351.0,197.6 333.0,208.0" fill="#7e4628" stroke="#5a3018" stroke-width="0.8" stroke-linejoin="round"/><polygon points="333.0,208.0 312.0,195.8 330.0,185.4 351.0,197.6" fill="#a86440" stroke="#5a3018" stroke-width="0.8" stroke-linejoin="round"/>
<g stroke="#6a3a20" stroke-width="1.6"><path d="M329.5 236.5 v5.0" /><path d="M322.5 232.4 v5.0" /><path d="M315.5 228.3 v5.0" /><path d="M336.0 236.8 v5.0" /><path d="M342.0 233.3 v5.0" /><path d="M348.0 229.8 v5.0" /><path d="M329.5 228.5 v5.0" /><path d="M322.5 224.4 v5.0" /><path d="M315.5 220.3 v5.0" /><path d="M336.0 228.8 v5.0" /><path d="M342.0 225.3 v5.0" /><path d="M348.0 221.8 v5.0" /><path d="M329.5 220.5 v5.0" /><path d="M322.5 216.4 v5.0" /><path d="M315.5 212.3 v5.0" /><path d="M336.0 220.8 v5.0" /><path d="M342.0 217.3 v5.0" /><path d="M348.0 213.8 v5.0" /><path d="M329.5 212.5 v5.0" /><path d="M322.5 208.4 v5.0" /><path d="M315.5 204.3 v5.0" /><path d="M336.0 212.8 v5.0" /><path d="M342.0 209.3 v5.0" /><path d="M348.0 205.8 v5.0" /></g>
<polygon points="333.0,210.0 316.0,200.1 316.0,180.1 333.0,190.0" fill="#9a5a34" stroke="#5a3018" stroke-width="0.8" stroke-linejoin="round"/><polygon points="333.0,210.0 349.0,200.7 349.0,180.7 333.0,190.0" fill="#7c4428" stroke="#5a3018" stroke-width="0.8" stroke-linejoin="round"/><polygon points="333.0,190.0 316.0,180.1 332.0,170.9 349.0,180.7" fill="#a86642" stroke="#5a3018" stroke-width="0.8" stroke-linejoin="round"/>
<polygon points="331.0,190.0 319.0,183.0 319.0,165.0 331.0,172.0" fill="#9c5c34" stroke="#5a3018" stroke-width="0.8" stroke-linejoin="round"/><polygon points="331.0,190.0 342.0,183.6 342.0,165.6 331.0,172.0" fill="#7d4629" stroke="#5a3018" stroke-width="0.8" stroke-linejoin="round"/><polygon points="331.0,172.0 319.0,165.0 330.0,158.7 342.0,165.6" fill="#aa6a44" stroke="#5a3018" stroke-width="0.8" stroke-linejoin="round"/>
<path d="M324 160 Q330 154 336 160 L336 167 L324 167 Z" fill="#d08a58" stroke="#5a3018" stroke-width="0.6"/>
<circle cx="325" cy="178" r="2.3" fill="#e8eef0" stroke="#5a3018" stroke-width="0.4"/><circle cx="338" cy="177" r="2.3" fill="#c8d8e8" stroke="#5a3018" stroke-width="0.4"/>
<path d="M340 205 v-9 q3 -5 6 -1 v8 Z" fill="#e8c8a0" stroke="#5a3018" stroke-width="0.5"/>
<g fill="#efe6d8" stroke="#5a3018" stroke-width="0.4"><path d="M315.5 192 l1.5 -6 l1.5 6 z"/><path d="M348 191 l1.5 -7 l1.5 7 z"/><path d="M331.5 200 l1.5 -6 l1.5 6 z"/></g>
<path d="M336 248 v-10 q3 -5 6 -1 v9" fill="#c08858" stroke="#5a3018" stroke-width="0.5"/>
<path d="M330 156 V147" stroke="#777" stroke-width="0.8"/>
<rect x="321" y="148" width="3.3" height="6" fill="#3a9a48"/><rect x="324.3" y="148" width="3.3" height="6" fill="#f4f4f0"/><rect x="327.6" y="148" width="3.3" height="6" fill="#d43838"/>
<g transform="rotate(9 402 270)"><ellipse cx="402" cy="262" rx="47" ry="28" fill="#b8853e" stroke="#8a5a24" stroke-width="0.8"/><rect x="359.3" y="256.4" width="4.2" height="9" rx="2" fill="#e6cf9c"/><rect x="365.8" y="249.7" width="4.2" height="9" rx="2" fill="#e6cf9c"/><rect x="375.3" y="244.5" width="4.2" height="9" rx="2" fill="#e6cf9c"/><rect x="387.0" y="241.1" width="4.2" height="9" rx="2" fill="#e6cf9c"/><rect x="399.9" y="240.0" width="4.2" height="9" rx="2" fill="#e6cf9c"/><rect x="412.8" y="241.1" width="4.2" height="9" rx="2" fill="#e6cf9c"/><rect x="424.5" y="244.5" width="4.2" height="9" rx="2" fill="#e6cf9c"/><rect x="434.0" y="249.7" width="4.2" height="9" rx="2" fill="#e6cf9c"/><rect x="440.5" y="256.4" width="4.2" height="9" rx="2" fill="#e6cf9c"/><ellipse cx="402" cy="276" rx="42.5" ry="23" fill="#9aa444"/><path d="M370 278 Q395 292 432 268" fill="none" stroke="#d8cf98" stroke-width="1.2"/><path d="M355 262 A47 28 0 0 0 449 262 L449 278 A47 28 0 0 1 355 278 Z" fill="#b07a38" stroke="#8a5a24" stroke-width="0.8"/><path d="M356 263 A46 27 0 0 0 448 263" fill="none" stroke="#d0a058" stroke-width="2.2"/><rect x="353.6" y="271.2" width="4.4" height="9.5" rx="2.1" fill="#e8d2a0" stroke="#8a5a24" stroke-width="0.5"/><rect x="357.8" y="278.6" width="4.4" height="9.5" rx="2.1" fill="#e8d2a0" stroke="#8a5a24" stroke-width="0.5"/><rect x="365.1" y="284.9" width="4.4" height="9.5" rx="2.1" fill="#e8d2a0" stroke="#8a5a24" stroke-width="0.5"/><rect x="375.1" y="289.8" width="4.4" height="9.5" rx="2.1" fill="#e8d2a0" stroke="#8a5a24" stroke-width="0.5"/><rect x="387.0" y="292.9" width="4.4" height="9.5" rx="2.1" fill="#e8d2a0" stroke="#8a5a24" stroke-width="0.5"/><rect x="399.8" y="294.0" width="4.4" height="9.5" rx="2.1" fill="#e8d2a0" stroke="#8a5a24" stroke-width="0.5"/><rect x="412.6" y="292.9" width="4.4" height="9.5" rx="2.1" fill="#e8d2a0" stroke="#8a5a24" stroke-width="0.5"/><rect x="424.5" y="289.8" width="4.4" height="9.5" rx="2.1" fill="#e8d2a0" stroke="#8a5a24" stroke-width="0.5"/><rect x="434.5" y="284.9" width="4.4" height="9.5" rx="2.1" fill="#e8d2a0" stroke="#8a5a24" stroke-width="0.5"/><rect x="441.8" y="278.6" width="4.4" height="9.5" rx="2.1" fill="#e8d2a0" stroke="#8a5a24" stroke-width="0.5"/><rect x="446.0" y="271.2" width="4.4" height="9.5" rx="2.1" fill="#e8d2a0" stroke="#8a5a24" stroke-width="0.5"/></g>
<polygon points="388.0,272.0 398.0,266.0 410.0,272.0 400.0,279.0" fill="#8a9cb0" stroke="#50607a" stroke-width="0.6" stroke-linejoin="round"/>
<g fill="#76682e"><circle cx="378" cy="282" r="3.2"/><circle cx="386" cy="286" r="3.2"/><circle cx="395" cy="289" r="3.2"/><circle cx="404" cy="291" r="3.2"/><circle cx="428" cy="283" r="3.2"/><circle cx="436" cy="278" r="3.2"/></g>
<polygon points="243.0,286.0 226.0,276.1 226.0,264.1 243.0,274.0" fill="#c6beae" stroke="#7a7264" stroke-width="0.8" stroke-linejoin="round"/><polygon points="243.0,286.0 261.0,275.6 261.0,263.6 243.0,274.0" fill="#aca494" stroke="#7a7264" stroke-width="0.8" stroke-linejoin="round"/><polygon points="243.0,274.0 226.0,264.1 244.0,253.7 261.0,263.6" fill="#d8d2c4" stroke="#7a7264" stroke-width="0.8" stroke-linejoin="round"/>
<path d="M248 280 l9 -5" stroke="#706a5a" stroke-width="3"/>
<polygon points="270.0,262.0 308.0,240.0 330.0,252.0 292.0,274.0" fill="#8c5a38" stroke="#5a3418" stroke-width="0.7" stroke-linejoin="round"/>
<path d="M294 276 v8 M300 272 v8 M306 269 v8 M312 265 v8 M318 262 v8 M324 258 v8" stroke="#e09858" stroke-width="1.2"/>
<path d="M262 285 v12 a23 13 0 0 0 46 0 v-12" fill="#c8dadd" stroke="#8a8478" stroke-width="1.2"/>
<path d="M262 292 a23 13 0 0 0 46 0 M285 297 v10" fill="none" stroke="#9a9486" stroke-width="1"/>
<ellipse cx="285" cy="285" rx="23" ry="12" fill="#d4cdbd" stroke="#8a8478" stroke-width="1"/>
<polygon points="272.0,282.0 285.0,274.0 298.0,282.0 285.0,286.0" fill="#c0b8a8" stroke="#8a8478" stroke-width="0.6" stroke-linejoin="round"/>
<polygon points="285.0,276.0 277.0,271.4 277.0,265.4 285.0,270.0" fill="#bcb6a8" stroke="#8a8478" stroke-width="0.6" stroke-linejoin="round"/><polygon points="285.0,276.0 293.0,271.4 293.0,265.4 285.0,270.0" fill="#a8a292" stroke="#8a8478" stroke-width="0.6" stroke-linejoin="round"/><polygon points="285.0,270.0 277.0,265.4 285.0,260.7 293.0,265.4" fill="#d0ccc0" stroke="#8a8478" stroke-width="0.6" stroke-linejoin="round"/>
<polygon points="350.0,319.5 324.0,304.4 324.0,279.4 350.0,294.5" fill="#90a8d8" stroke="#46609a" stroke-width="0.9" stroke-linejoin="round"/><polygon points="350.0,319.5 373.6,305.8 373.6,280.8 350.0,294.5" fill="#7892c8" stroke="#46609a" stroke-width="0.9" stroke-linejoin="round"/><polygon points="350.0,294.5 324.0,279.4 347.6,265.7 373.6,280.8" fill="#b2c0e0" stroke="#46609a" stroke-width="0.9" stroke-linejoin="round"/>
<path d="M337 305 v20 M324 297 v20 M362 305 v20 M350 300 v20" stroke="#46609a" stroke-width="0.8"/>
<path d="M324 282 L350 297 L373.6 283" fill="none" stroke="#46609a" stroke-width="0.8"/>
<polygon points="366.0,322.0 358.0,317.4 358.0,307.4 366.0,312.0" fill="#8aa0d0" stroke="#46609a" stroke-width="0.7" stroke-linejoin="round"/><polygon points="366.0,322.0 375.0,316.8 375.0,306.8 366.0,312.0" fill="#7088c0" stroke="#46609a" stroke-width="0.7" stroke-linejoin="round"/><polygon points="366.0,312.0 358.0,307.4 367.0,302.1 375.0,306.8" fill="#a8b8d8" stroke="#46609a" stroke-width="0.7" stroke-linejoin="round"/>
<path d="M462 262 Q463 241 482 239.5 Q501 241 502 262 Z" fill="#d6cfc2" stroke="#7a7060" stroke-width="0.8"/>
<path d="M468 250 v10 M476 246 v12 M488 246 v12 M496 250 v10" stroke="#9aa8b8" stroke-width="1.2"/>
<polygon points="481.3,311.0 456.3,296.5 456.3,259.5 481.3,274.0" fill="#d6ccb8" stroke="#7a7060" stroke-width="0.8" stroke-linejoin="round"/><polygon points="481.3,311.0 505.3,297.1 505.3,260.1 481.3,274.0" fill="#c4b79e" stroke="#7a7060" stroke-width="0.8" stroke-linejoin="round"/><polygon points="481.3,274.0 456.3,259.5 480.3,245.6 505.3,260.1" fill="#dcd4c4" stroke="#7a7060" stroke-width="0.8" stroke-linejoin="round"/>
<g stroke="#7f98c0" stroke-width="1.4"><path d="M478.8 303.0 v2.6" /><path d="M473.8 300.1 v2.6" /><path d="M468.8 297.2 v2.6" /><path d="M463.8 294.3 v2.6" /><path d="M458.8 291.4 v2.6" /><path d="M483.7 303.1 v2.6" /><path d="M488.5 300.3 v2.6" /><path d="M493.3 297.5 v2.6" /><path d="M498.1 294.7 v2.6" /><path d="M502.9 292.0 v2.6" /><path d="M478.8 298.6 v2.6" /><path d="M473.8 295.7 v2.6" /><path d="M468.8 292.8 v2.6" /><path d="M463.8 289.9 v2.6" /><path d="M458.8 287.0 v2.6" /><path d="M483.7 298.7 v2.6" /><path d="M488.5 295.9 v2.6" /><path d="M493.3 293.1 v2.6" /><path d="M498.1 290.3 v2.6" /><path d="M502.9 287.5 v2.6" /><path d="M478.8 294.2 v2.6" /><path d="M473.8 291.3 v2.6" /><path d="M468.8 288.4 v2.6" /><path d="M463.8 285.5 v2.6" /><path d="M458.8 282.6 v2.6" /><path d="M483.7 294.2 v2.6" /><path d="M488.5 291.5 v2.6" /><path d="M493.3 288.7 v2.6" /><path d="M498.1 285.9 v2.6" /><path d="M502.9 283.1 v2.6" /><path d="M478.8 289.8 v2.6" /><path d="M473.8 286.8 v2.6" /><path d="M468.8 283.9 v2.6" /><path d="M463.8 281.1 v2.6" /><path d="M458.8 278.1 v2.6" /><path d="M483.7 289.8 v2.6" /><path d="M488.5 287.0 v2.6" /><path d="M493.3 284.2 v2.6" /><path d="M498.1 281.5 v2.6" /><path d="M502.9 278.7 v2.6" /><path d="M478.8 285.3 v2.6" /><path d="M473.8 282.4 v2.6" /><path d="M468.8 279.5 v2.6" /><path d="M463.8 276.6 v2.6" /><path d="M458.8 273.7 v2.6" /><path d="M483.7 285.4 v2.6" /><path d="M488.5 282.6 v2.6" /><path d="M493.3 279.8 v2.6" /><path d="M498.1 277.0 v2.6" /><path d="M502.9 274.2 v2.6" /><path d="M478.8 280.9 v2.6" /><path d="M473.8 278.0 v2.6" /><path d="M468.8 275.1 v2.6" /><path d="M463.8 272.2 v2.6" /><path d="M458.8 269.3 v2.6" /><path d="M483.7 281.0 v2.6" /><path d="M488.5 278.2 v2.6" /><path d="M493.3 275.4 v2.6" /><path d="M498.1 272.6 v2.6" /><path d="M502.9 269.8 v2.6" /><path d="M478.8 276.5 v2.6" /><path d="M473.8 273.6 v2.6" /><path d="M468.8 270.7 v2.6" /><path d="M463.8 267.8 v2.6" /><path d="M458.8 264.9 v2.6" /><path d="M483.7 276.5 v2.6" /><path d="M488.5 273.7 v2.6" /><path d="M493.3 271.0 v2.6" /><path d="M498.1 268.2 v2.6" /><path d="M502.9 265.4 v2.6" /></g>
<path d="M456.3 286 L481.3 300.5 L505.3 286.6 M456.3 275 L481.3 289.5 L505.3 275.6" stroke="#a89c84" stroke-width="0.9" fill="none"/>
<polygon points="525.0,273.0 503.0,260.2 503.0,250.2 525.0,263.0" fill="#3e5090" stroke="#1e2a5a" stroke-width="0.8" stroke-linejoin="round"/><polygon points="525.0,273.0 546.0,260.8 546.0,250.8 525.0,263.0" fill="#344484" stroke="#1e2a5a" stroke-width="0.8" stroke-linejoin="round"/><polygon points="525.0,263.0 503.0,250.2 524.0,238.1 546.0,250.8" fill="#e8ecf2" stroke="#1e2a5a" stroke-width="0.8" stroke-linejoin="round"/>
<polygon points="510.0,255.0 520.0,249.0 532.0,255.0 522.0,261.0" fill="#ffffff" stroke="#8894a8" stroke-width="0.5" stroke-linejoin="round"/>
<polygon points="525.0,258.0 536.0,252.0 543.0,256.0 532.0,262.0" fill="#ffffff" stroke="#8894a8" stroke-width="0.5" stroke-linejoin="round"/>
<path d="M527 270 l2 -1 M531 268 l2 -1 M535 266 l2 -1 M539 264 l2 -1" stroke="#f0d050" stroke-width="2"/>
<path d="M536 250 v-8 M540 252 v-8" stroke="#40485a" stroke-width="1"/>
<polygon points="518.0,276.0 529.0,270.0 531.0,275.0 520.0,281.6" fill="#c04040" stroke="#6a2020" stroke-width="0.5" stroke-linejoin="round"/>
<polygon points="330.0,342.0 306.0,328.1 306.0,316.1 330.0,330.0" fill="#c0b6a4" stroke="#6a6252" stroke-width="0.8" stroke-linejoin="round"/><polygon points="330.0,342.0 352.0,329.2 352.0,317.2 330.0,330.0" fill="#a89e8c" stroke="#6a6252" stroke-width="0.8" stroke-linejoin="round"/><polygon points="330.0,330.0 306.0,316.1 328.0,303.3 352.0,317.2" fill="#d4ccbc" stroke="#6a6252" stroke-width="0.8" stroke-linejoin="round"/>
<polygon points="318.0,325.0 333.0,317.0 343.0,323.0 328.0,331.0" fill="#bab2a0" stroke="#6a6252" stroke-width="0.5" stroke-linejoin="round"/>
<path d="M318 318 v-8" stroke="#6a6252" stroke-width="1.6"/>
<polygon points="338.0,338.0 352.0,330.0 362.0,336.0 348.0,344.0" fill="#b8c4c8" stroke="#6a7478" stroke-width="0.5" stroke-linejoin="round"/>
<path d="M430.0 310.0 L444.0 302.0" stroke="#4e6a72" stroke-width="14.6" stroke-linecap="round"/><path d="M430.0 310.0 L444.0 302.0" stroke="#8ea6aa" stroke-width="13.0" stroke-linecap="round"/><path d="M429.0 307.5 L443.0 299.5" stroke="#b4c8ca" stroke-width="3.9" stroke-linecap="round"/>
<path d="M439.0 321.0 L456.0 311.0" stroke="#4e6a72" stroke-width="15.6" stroke-linecap="round"/><path d="M439.0 321.0 L456.0 311.0" stroke="#8ea6aa" stroke-width="14.0" stroke-linecap="round"/><path d="M438.0 318.5 L455.0 308.5" stroke="#b4c8ca" stroke-width="4.2" stroke-linecap="round"/>
<g fill="none" stroke="#5a767e" stroke-width="0.6"><path d="M431 303 q3 6 -1 13 M437 299 q3 6 -1 13 M441 314 q3 6 -1 13 M447 310 q3 6 -1 13 M453 306 q3 6 -1 13"/></g>
<polygon points="406.7,336.5 384.0,323.3 384.0,305.3 406.7,318.5" fill="#e8dab8" stroke="#9a8460" stroke-width="0.7" stroke-linejoin="round"/><polygon points="406.7,336.5 406.8,336.4 406.8,318.4 406.7,318.5" fill="#d2c29c" stroke="#9a8460" stroke-width="0.7" stroke-linejoin="round"/><polygon points="406.7,318.5 384.0,305.3 384.1,305.3 406.8,318.4" fill="#5a8ad0" stroke="#9a8460" stroke-width="0.7" stroke-linejoin="round"/>
<polygon points="384.0,320.0 406.7,333.0 406.7,336.0 384.0,323.0" fill="#5a8ad0"/>
<polygon points="384.0,303.0 392.0,298.0 406.7,307.0 399.0,312.0" fill="#5a8ad0" stroke="#3a5a90" stroke-width="0.6" stroke-linejoin="round"/>
<polygon points="422.8,341.6 395.8,326.8 395.8,300.8 422.8,315.6" fill="#e8d8b0" stroke="#9a8460" stroke-width="0.7" stroke-linejoin="round"/><polygon points="422.8,341.6 432.4,336.3 432.4,310.3 422.8,315.6" fill="#5a8ad0" stroke="#9a8460" stroke-width="0.7" stroke-linejoin="round"/><polygon points="422.8,315.6 395.8,300.8 405.4,295.5 432.4,310.3" fill="#f0e2c0" stroke="#9a8460" stroke-width="0.7" stroke-linejoin="round"/>
<g stroke="#7f9fc8" stroke-width="1.4"><path d="M420.1 332.3 v2.8" /><path d="M414.7 329.4 v2.8" /><path d="M409.3 326.4 v2.8" /><path d="M403.9 323.4 v2.8" /><path d="M398.5 320.5 v2.8" /><path d="M420.1 327.6 v2.8" /><path d="M414.7 324.6 v2.8" /><path d="M409.3 321.7 v2.8" /><path d="M403.9 318.7 v2.8" /><path d="M398.5 315.7 v2.8" /><path d="M420.1 322.8 v2.8" /><path d="M414.7 319.9 v2.8" /><path d="M409.3 316.9 v2.8" /><path d="M403.9 313.9 v2.8" /><path d="M398.5 311.0 v2.8" /><path d="M420.1 318.1 v2.8" /><path d="M414.7 315.1 v2.8" /><path d="M409.3 312.2 v2.8" /><path d="M403.9 309.2 v2.8" /><path d="M398.5 306.2 v2.8" /></g>
<g fill="#5a8ad0"><circle cx="400" cy="300" r="1.8"/><circle cx="405" cy="303" r="1.8"/><circle cx="410" cy="306" r="1.8"/><circle cx="415" cy="309" r="1.8"/></g>
<polygon points="377.0,367.3 360.5,357.7 360.5,330.7 377.0,340.3" fill="#902c2c" stroke="#4a1414" stroke-width="0.8" stroke-linejoin="round"/><polygon points="377.0,367.3 392.5,358.3 392.5,331.3 377.0,340.3" fill="#7c2424" stroke="#4a1414" stroke-width="0.8" stroke-linejoin="round"/><polygon points="377.0,340.3 360.5,330.7 376.0,321.7 392.5,331.3" fill="#a83838" stroke="#4a1414" stroke-width="0.8" stroke-linejoin="round"/>
<g stroke="#8fa8d0" stroke-width="1.2"><path d="M374.2 358.8 v2.6" /><path d="M368.8 355.6 v2.6" /><path d="M363.2 352.4 v2.6" /><path d="M379.6 358.9 v2.6" /><path d="M384.8 355.9 v2.6" /><path d="M389.9 352.9 v2.6" /><path d="M374.2 353.5 v2.6" /><path d="M368.8 350.3 v2.6" /><path d="M363.2 347.1 v2.6" /><path d="M379.6 353.6 v2.6" /><path d="M384.8 350.6 v2.6" /><path d="M389.9 347.6 v2.6" /><path d="M374.2 348.3 v2.6" /><path d="M368.8 345.1 v2.6" /><path d="M363.2 341.9 v2.6" /><path d="M379.6 348.4 v2.6" /><path d="M384.8 345.4 v2.6" /><path d="M389.9 342.4 v2.6" /><path d="M374.2 343.0 v2.6" /><path d="M368.8 339.8 v2.6" /><path d="M363.2 336.6 v2.6" /><path d="M379.6 343.1 v2.6" /><path d="M384.8 340.1 v2.6" /><path d="M389.9 337.1 v2.6" /></g>
<text x="270" y="263.4" font-size="22" font-weight="bold" fill="#5e4a18" stroke="#5e4a18" stroke-width="4.0" stroke-linejoin="round" textLength="231.5" lengthAdjust="spacingAndGlyphs">the e-company metroplex</text>
<text x="270" y="263.4" font-size="22" font-weight="bold" fill="#fff" stroke="#fff" stroke-width="0.9" stroke-linejoin="round" textLength="231.5" lengthAdjust="spacingAndGlyphs">the e-company metroplex</text>
<ellipse cx="226" cy="162.5" rx="28" ry="19" fill="#c6bd6b"/><ellipse cx="226" cy="162.5" rx="24.4" ry="14.8" fill="#fff"/><text x="226.3" y="170.7" text-anchor="middle" font-size="22.6" font-weight="bold" stroke="#000" stroke-width="0.9" textLength="32" lengthAdjust="spacingAndGlyphs" fill="#000">ERP</text>
<ellipse cx="558" cy="163" rx="28" ry="19" fill="#e96d34"/><ellipse cx="558" cy="163" rx="24.4" ry="14.8" fill="#fff"/><text x="558.3" y="171.2" text-anchor="middle" font-size="22.6" font-weight="bold" stroke="#000" stroke-width="0.9" textLength="34" lengthAdjust="spacingAndGlyphs" fill="#000">B2C</text>
<ellipse cx="226" cy="379" rx="28" ry="19" fill="#0b3a7c"/><ellipse cx="226" cy="379" rx="24.4" ry="14.8" fill="#fff"/><text x="226.3" y="387.2" text-anchor="middle" font-size="22.6" font-weight="bold" stroke="#000" stroke-width="0.9" textLength="33.8" lengthAdjust="spacingAndGlyphs" fill="#000">B2B</text>
<ellipse cx="558" cy="379" rx="28" ry="19" fill="#7976b6"/><ellipse cx="558" cy="379" rx="24.4" ry="14.8" fill="#fff"/><text x="558.3" y="387.2" text-anchor="middle" font-size="22.6" font-weight="bold" stroke="#000" stroke-width="0.9" textLength="33.5" lengthAdjust="spacingAndGlyphs" fill="#000">B2E</text>

<g fill="#7f8b89" stroke="#7f8b89" stroke-width="0.3" font-weight="bold" font-size="12.4">
<text x="174.5" y="101.2" textLength="150.5" lengthAdjust="spacingAndGlyphs">strategic enterprise planning</text>
<text x="516.3" y="100.3" textLength="51.3" lengthAdjust="spacingAndGlyphs">customers</text>
<text x="201" y="473.4" textLength="114" lengthAdjust="spacingAndGlyphs">vendors and partners</text>
<text x="508.8" y="473.2" textLength="95.7" lengthAdjust="spacingAndGlyphs">remote employees</text>
</g>
<g fill="none" stroke="#f2a93b" stroke-width="3">
<path d="M361.2 451.1 H348.2 Q346.7 451.1 346.7 452.6 V473.1 Q346.7 474.6 348.2 474.6 H434.7 Q436.2 474.6 436.2 473.1 V452.6 Q436.2 451.1 434.7 451.1 H370"/>
</g>
<path d="M376 447 L369.5 451.2 L376 455.4" fill="none" stroke="#f2a93b" stroke-width="3" stroke-linecap="round" stroke-linejoin="round"/>
<text x="352.2" y="468.3" fill="#f2a93b" stroke="#f2a93b" stroke-width="0.5" font-weight="bold" font-size="16" textLength="80.3" lengthAdjust="spacingAndGlyphs">how we do it</text>
<rect x="722.5" y="503.5" width="16" height="16" fill="#cde5dd" stroke="#86c2ac" stroke-width="1"/>
<path d="M724.5 505.5 L737 518 M737 505.5 L724.5 518" stroke="#86c2ac" stroke-width="0.8"/>

</svg></body></html>
